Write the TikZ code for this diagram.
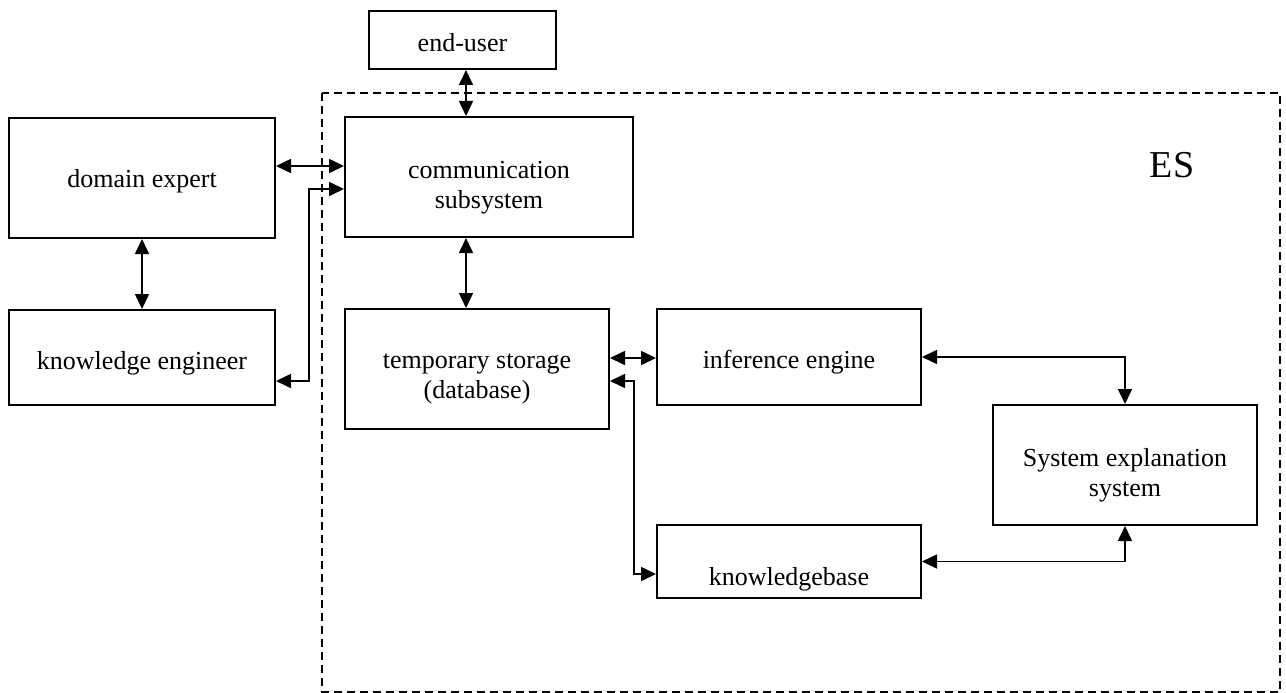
\documentclass[tikz,border=0pt]{standalone}
\usepackage{fontspec}
\setmainfont{Liberation Serif}
\usetikzlibrary{calc,arrows.meta}

\tikzset{
    blok/.style={draw, line width=2pt, align=center, inner sep=0pt, text depth=0pt, font=\fontsize{26}{30}\selectfont},
    dbl/.style={{Triangle[length=15pt,width=14pt]}-{Triangle[length=15pt,width=14pt]}, line width=1.6pt}
}

\begin{document}
\begin{tikzpicture}[x=1pt,y=-1pt]
            \useasboundingbox (0,0) rectangle (1286,693);

            % expert system boundary
            \draw [line width=1.3pt, dash pattern=on 8pt off 5pt] (322,93) rectangle (1280,692);
            \node (es) at (1172,165) [font=\fontsize{38}{44}\selectfont] {ES};

            \node (enduser) at (462.5,40) [blok, minimum width=187pt, minimum height=58pt, text height=24pt] {end-user};
            \node (dexpert) at (142,178) [blok, minimum width=266pt, minimum height=120pt, text height=18pt] {domain expert};
            \node (kengineer) at (142,357.5) [blok, minimum width=266pt, minimum height=95pt, text height=24pt] {knowledge engineer};
            \node (comm) at (489,177) [blok, minimum width=288pt, minimum height=120pt, text height=62pt] {communication\\subsystem};
            \node (storage) at (477,369) [blok, minimum width=264pt, minimum height=120pt, text height=58pt] {temporary storage\\(database)};
            \node (inference) at (789,357) [blok, minimum width=264pt, minimum height=96pt, text height=22pt] {inference engine};
            \node (kbase) at (789,561.5) [blok, minimum width=264pt, minimum height=73pt, text height=47pt] {knowledgebase};
            \node (explain) at (1125,465) [blok, minimum width=264pt, minimum height=120pt, text height=62pt] {System explanation\\system};

            % connectors
            \draw [dbl] ([xshift=3.5pt]enduser.south) -- ([xshift=3.5pt]enduser.south |- comm.north);
            \draw [dbl] ([xshift=-11pt]storage.north) -- ([xshift=-11pt]storage.north |- comm.south);
            \draw [dbl] (dexpert.south) -- (kengineer.north);
            \draw [dbl] ([yshift=12pt]dexpert.east) -- ([yshift=12pt]dexpert.east -| comm.west);
            \draw [dbl] ([yshift=-23.5pt]kengineer.east) -- ++(33,0) |- ([yshift=-12pt]comm.west);
            \draw [dbl] ([yshift=11pt]storage.east) -- ([yshift=11pt]storage.east -| inference.west);
            \draw [dbl] ([yshift=-12pt]storage.east) -- ++(24,0) |- ([yshift=-12.5pt]kbase.west);
            \draw [dbl] (inference.east) -| (explain.north);
            \draw [dbl] (kbase.east) -| (explain.south);

\end{tikzpicture}
\end{document}
